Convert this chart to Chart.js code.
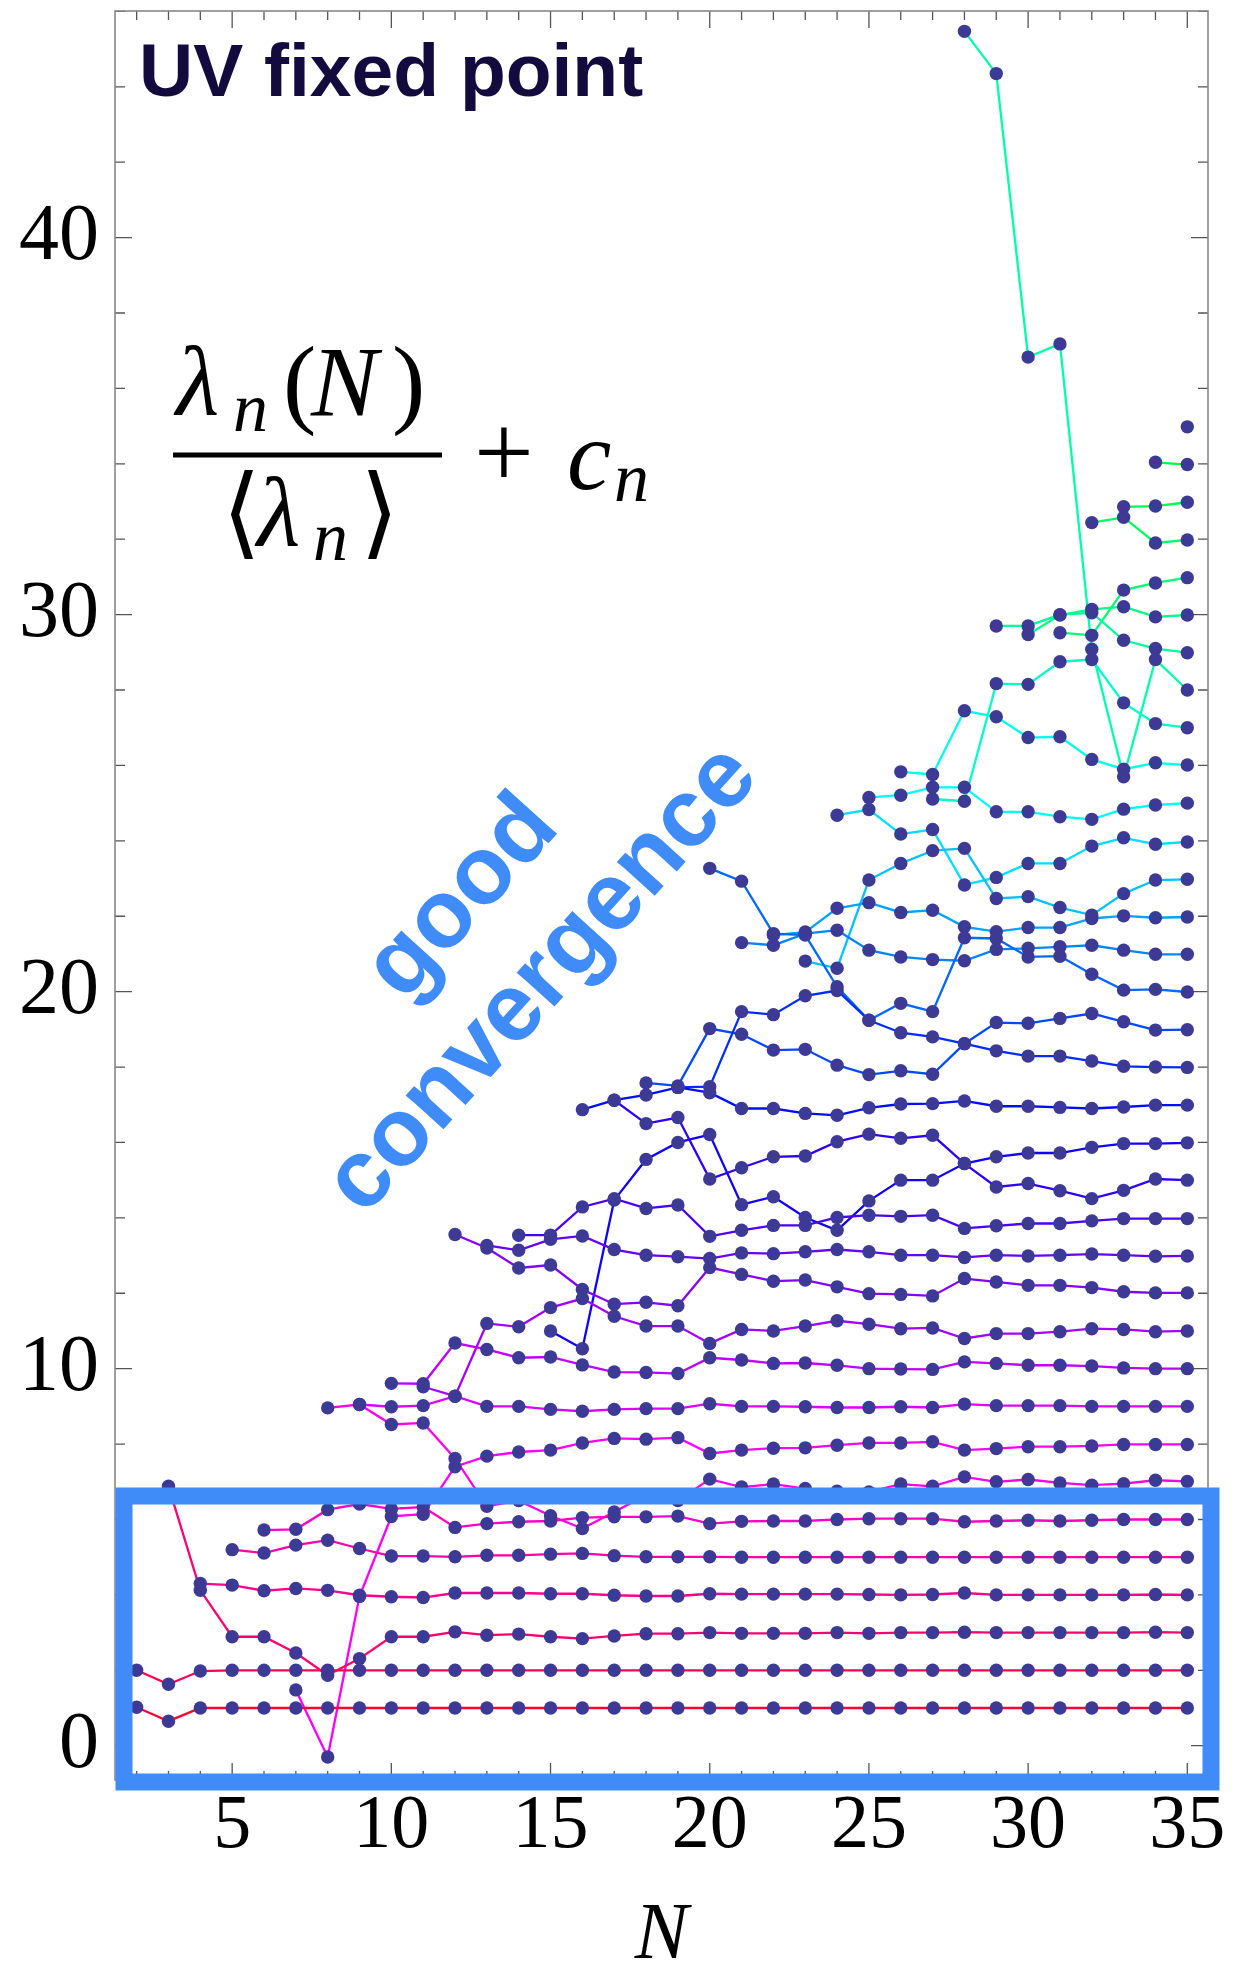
<!DOCTYPE html>
<html>
<head>
<meta charset="utf-8">
<title>UV fixed point</title>
<script src="https://cdn.jsdelivr.net/npm/chart.js@4.4.1/dist/chart.umd.min.js"></script>
<style>
  html, body { margin: 0; padding: 0; background: #fff; }
  #wrap { width: 1233px; height: 1970px; }
</style>
</head>
<body>
<div id="wrap"><canvas id="chart" width="1233" height="1970"></canvas></div>
<script>
// N values (x categories)
const N = [2, 3, 4, 5, 6, 7, 8, 9, 10, 11, 12, 13, 14, 15, 16, 17, 18, 19,
           20, 21, 22, 23, 24, 25, 26, 27, 28, 29, 30, 31, 32, 33, 34, 35];
const xTicks = [5, 10, 15, 20, 25, 30, 35];
const yTicks = [0, 10, 20, 30, 40];

// leading nulls until the series starts
const pad = (start, vals) => Array(start - N[0]).fill(null).concat(vals);

// lambda_n(N)/<lambda_n> + c_n, one array per n
const s1 = pad(2, [1.02, 0.65,
  1.0, 1.0, 1.0, 1.0, 1.0, 1.0, 1.0, 1.0,
  1.0, 1.0, 1.0, 1.0, 1.0, 1.0, 1.0, 1.0,
  1.0, 1.0, 1.0, 1.0, 1.0, 1.0, 1.0, 1.0,
  1.0, 1.0, 1.0, 1.0, 1.0, 1.0, 1.0, 1.0]);
const s2 = pad(2, [2.0, 1.63, 1.98,
  2.0, 2.0, 2.0, 2.0, 2.0, 2.0, 2.0,
  2.0, 2.0, 2.0, 2.0, 2.0, 2.0, 2.0, 2.0,
  2.0, 2.0, 2.0, 2.0, 2.0, 2.0, 2.0, 2.0,
  2.0, 2.0, 2.0, 2.0, 2.0, 2.0, 2.0, 2.0]);
const s3 = pad(3, [6.88, 4.12, 2.89, 2.89, 2.46, 1.87, 2.31, 2.89, 2.89,
  3.02, 2.93, 2.96, 2.89, 2.84, 2.91, 2.97, 2.97,
  3.0, 2.98, 2.98, 2.98, 3.0, 2.98, 3.0, 3.0,
  3.01, 3.0, 3.0, 3.0, 3.0, 3.0, 3.01, 3.0]);
const s4 = pad(4, [4.3, 4.26, 4.11, 4.17, 4.12, 3.99, 3.95, 3.93,
  4.05, 4.05, 4.05, 4.03, 4.03, 3.99, 3.97, 3.97,
  4.03, 4.02, 4.02, 4.02, 4.02, 4.01, 4.0, 4.01,
  4.05, 4.0, 4.0, 4.0, 4.0, 4.0, 4.01, 4.0]);
const s5 = pad(5, [5.2, 5.11, 5.32, 5.45, 5.23, 5.03, 5.03,
  5.01, 5.05, 5.05, 5.08, 5.1, 5.04, 5.01, 5.01,
  5.01, 5.0, 5.0, 5.0, 5.0, 5.0, 5.0, 5.0,
  5.0, 5.0, 5.0, 5.0, 5.0, 5.0, 5.0, 5.0]);
const s6 = pad(6, [5.72, 5.74, 6.26, 6.41, 6.28, 6.33,
  5.79, 5.89, 5.94, 5.96, 6.05, 6.07, 6.07, 6.09,
  5.89, 5.95, 5.96, 5.96, 6.0, 6.02, 6.02, 6.02,
  5.94, 5.96, 5.98, 5.96, 5.98, 6.0, 6.0, 6.0]);
const s7 = pad(8, [8.96, 9.05, 8.52, 8.56,
  7.62, 6.35, 6.5, 6.1, 5.76, 6.2, 6.65, 6.5,
  7.07, 6.86, 6.94, 6.82, 6.75, 6.73, 6.94, 6.88,
  7.13, 7.0, 7.06, 6.97, 6.91, 6.95, 7.04, 7.01]);
const s8 = pad(7, [1.48, -0.3, 3.96, 6.08, 6.14,
  7.4, 7.68, 7.79, 7.84, 8.03, 8.15, 8.13, 8.17,
  7.75, 7.84, 7.89, 7.9, 7.97, 8.03, 8.03, 8.06,
  7.84, 7.88, 7.93, 7.93, 7.95, 7.99, 7.99, 7.99]);
const s9 = pad(9, [9.05, 8.99, 9.02,
  9.27, 9.0, 9.0, 8.92, 8.87, 8.92, 8.94, 8.94,
  9.07, 9.0, 9.0, 8.99, 8.97, 8.97, 8.99, 8.97,
  9.06, 9.02, 9.02, 9.02, 9.0, 9.0, 9.0, 9.0]);
const s10 = pad(10, [9.61, 9.6,
  10.68, 10.51, 10.29, 10.31, 10.1, 9.91, 9.9, 9.87,
  10.29, 10.23, 10.14, 10.15, 10.09, 10.0, 9.99, 9.98,
  10.18, 10.14, 10.09, 10.09, 10.07, 10.02, 10.0, 10.0]);
const s11 = pad(11, [9.52,
  9.27, 11.2, 11.11, 11.62, 11.86, 11.39, 11.13, 11.13,
  10.67, 11.04, 11.0, 11.13, 11.27, 11.18, 11.06, 11.08,
  10.8, 10.93, 10.93, 10.98, 11.06, 11.04, 10.98, 11.0]);
const s12 = pad(12, [13.56, 13.2, 12.67, 12.75, 12.1, 11.71, 11.76, 11.67,
  12.68, 12.5, 12.32, 12.35, 12.17, 11.99, 11.97, 11.93,
  12.39, 12.3, 12.21, 12.21, 12.15, 12.04, 12.01, 12.01]);
const s13 = pad(13, [13.27, 13.14, 13.43, 13.52, 13.16, 13.01, 12.97,
  12.92, 13.07, 13.05, 13.1, 13.16, 13.1, 13.01, 13.01,
  12.95, 13.01, 12.99, 13.01, 13.04, 13.01, 12.98, 12.99]);
const s14 = pad(14, [13.54, 13.54, 14.29, 14.51, 14.25, 14.34,
  13.51, 13.67, 13.8, 13.8, 14.01, 14.07, 14.04, 14.07,
  13.72, 13.79, 13.85, 13.85, 13.92, 13.98, 13.98, 13.98]);
const s15 = pad(17, [17.12, 16.5, 16.66,
  15.03, 15.33, 15.62, 15.64, 16.02, 16.22, 16.11, 16.19,
  15.44, 14.82, 14.91, 14.72, 14.51, 14.73, 15.03, 15.0]);
const s16 = pad(15, [11.0, 10.53, 14.47, 15.55, 16.0,
  16.21, 14.35, 14.56, 14.01, 13.67, 14.45, 15.0, 15.0,
  15.44, 15.62, 15.72, 15.72, 15.87, 15.97, 15.97, 15.99]);
const s17 = pad(16, [16.87, 17.12, 17.26, 17.46,
  17.32, 16.9, 16.9, 16.77, 16.72, 16.92, 17.02, 17.03,
  17.1, 16.96, 16.96, 16.93, 16.9, 16.94, 16.99, 16.99]);
const s18 = pad(19, [17.46,
  17.48, 19.47, 19.39, 19.89, 20.03, 19.24, 18.91, 18.8,
  18.62, 18.43, 18.29, 18.29, 18.16, 18.02, 18.0, 17.99]);
const s19 = pad(18, [17.58, 17.5,
  19.02, 18.87, 18.45, 18.47, 18.05, 17.8, 17.9, 17.81,
  18.62, 19.18, 19.16, 19.29, 19.42, 19.2, 18.98, 18.99]);
const s20 = pad(20, [23.27, 22.93, 21.54, 21.5, 20.13, 19.24, 19.69, 19.47,
  21.43, 21.41, 20.92, 20.94, 20.46, 20.04, 20.06, 19.99]);
const s21 = pad(21, [21.3, 21.23, 21.54, 21.63, 21.1, 20.92, 20.85,
  20.82, 21.12, 21.15, 21.19, 21.23, 21.1, 20.99, 20.99]);
const s22 = pad(22, [21.5, 21.58, 22.21, 22.36, 22.1, 22.16,
  21.72, 21.59, 21.7, 21.7, 21.94, 22.01, 21.96, 21.98]);
const s23 = pad(23, [20.81, 20.62, 22.96, 23.4, 23.74,
  23.8, 22.47, 22.52, 22.23, 22.03, 22.6, 22.96, 22.98]);
const s24 = pad(24, [24.68, 24.83, 24.18, 24.3,
  22.83, 23.03, 23.4, 23.4, 23.86, 24.08, 23.91, 23.97]);
const s25 = pad(25, [25.15, 25.21, 25.42,
  25.42, 24.77, 24.77, 24.64, 24.57, 24.84, 24.95, 25.0]);
const s26 = pad(26, [25.83, 25.76, 27.45, 27.29, 26.74, 26.76, 26.16, 25.9, 26.07, 26.01]);
const s27 = pad(27, [25.11, 25.05, 28.17, 28.15, 28.75, 28.81, 27.66, 27.11, 27.0]);
const s28 = pad(28, [45.47, 44.35, 36.83, 37.18, 29.08, 25.7, 28.81, 28.0]);
const s29 = pad(29, [29.7, 29.7, 30.0, 30.05, 29.32, 29.1, 28.99]);
const s30 = pad(30, [29.47, 29.99, 30.14, 30.21, 29.94, 29.99]);
const s31 = pad(31, [29.52, 29.45, 30.65, 30.84, 30.98]);
const s32 = pad(32, [32.44, 32.58, 31.9, 31.98]);
const s33 = pad(33, [32.86, 32.88, 32.98]);
const s34 = pad(34, [34.04, 33.98]);
const s35 = pad(35, [34.98]);

const series = [s1, s2, s3, s4, s5, s6, s7, s8, s9, s10, s11, s12, s13, s14, s15, s16, s17, s18,
                s19, s20, s21, s22, s23, s24, s25, s26, s27, s28, s29, s30, s31, s32, s33, s34, s35];

// red -> magenta -> blue -> cyan -> green
const hue = i => (i <= 27 ? 348 - 6.96 * i : 160 - 4.3 * (i - 27));
const toPts = s => N.map((n, i) => ({ x: n, y: s[i] })).filter(p => p.y !== null);

const lineSets = series.map((s, i) => ({
  data: toPts(s),
  showLine: true,
  borderColor: `hsl(${hue(i)}, 100%, 50%)`,
  borderWidth: 2.3,
  pointRadius: 0,
  fill: false,
  order: 1
}));
const dotSets = series.map(s => ({
  data: toPts(s),
  showLine: false,
  pointRadius: 6.7,
  pointBackgroundColor: '#3d3a96',
  pointBorderWidth: 0,
  order: 0
}));

const serif = '"Liberation Serif", "DejaVu Serif", serif';
const sans = '"Liberation Sans", Arial, sans-serif';

// frame, ticks, the box and the labels drawn on the canvas
const decor = {
  id: 'decor',
  beforeDatasetsDraw(chart) {
    const { ctx, chartArea: a, scales: { x, y } } = chart;
    ctx.save();
    ctx.strokeStyle = '#555';
    ctx.lineWidth = 1.3;
    ctx.beginPath();
    for (let n = 2; n <= 35; n++) {
      const px = x.getPixelForValue(n);
      const len = n % 5 === 0 ? 17 : 9;
      ctx.moveTo(px, a.bottom); ctx.lineTo(px, a.bottom - len);
      ctx.moveTo(px, a.top); ctx.lineTo(px, a.top + len);
    }
    for (let v = 0; v <= 46; v += 2) {
      const py = y.getPixelForValue(v);
      const len = v % 10 === 0 ? 17 : 10;
      ctx.moveTo(a.left, py); ctx.lineTo(a.left + len, py);
      ctx.moveTo(a.right, py); ctx.lineTo(a.right - len, py);
    }
    ctx.stroke();
    ctx.strokeStyle = '#888';
    ctx.lineWidth = 1.6;
    ctx.strokeRect(a.left, a.top, a.right - a.left, a.bottom - a.top);
    ctx.restore();
  },
  afterDraw(chart) {
    const { ctx } = chart;
    ctx.save();

    // "good convergence" box
    ctx.strokeStyle = '#3f8cf8';
    ctx.lineWidth = 17;
    ctx.strokeRect(124, 1496, 1087, 286);

    // title
    ctx.fillStyle = '#130a3e';
    ctx.font = `bold 75px ${sans}`;
    ctx.textAlign = 'left';
    ctx.textBaseline = 'alphabetic';
    ctx.fillText('UV fixed point', 139, 96);

    // formula
    ctx.fillStyle = '#000';
    const it = s => `italic ${s}px ${serif}`;
    const rm = s => `${s}px ${serif}`;
    const put = (t, f, px, py) => { ctx.font = f; ctx.fillText(t, px, py); };
    put('λ', it(100), 176, 415);
    put('n', it(70), 233, 431);
    put('(', rm(100), 283, 415);
    put('N', it(100), 311, 415);
    put(')', rm(100), 392, 415);
    ctx.fillRect(173, 452.5, 269, 5);
    put('⟨', rm(100), 222, 546);
    put('λ', it(100), 257, 546);
    put('n', it(70), 313, 560);
    put('⟩', rm(100), 360, 546);
    put('+', rm(106), 474, 488);
    put('c', it(100), 567, 489);
    put('n', it(70), 614, 501);

    // rotated annotation
    const fs = 96;
    ctx.fillStyle = '#3f8cf8';
    ctx.font = `bold ${fs}px ${sans}`;
    ctx.textAlign = 'center';
    ctx.translate(544, 981);
    ctx.rotate(-47.9 * Math.PI / 180);
    ctx.fillText('convergence', 0, 0.26 * fs);
    ctx.fillText('good', 7, -114 + 0.26 * fs);
    ctx.restore();
  }
};

new Chart(document.getElementById('chart'), {
  type: 'scatter',
  data: { datasets: [...lineSets, ...dotSets] },
  options: {
    responsive: false,
    animation: false,
    events: [],
    layout: { padding: { top: 11, right: 25, left: 0, bottom: 0 } },
    plugins: { legend: { display: false }, tooltip: { enabled: false } },
    scales: {
      x: {
        type: 'linear',
        min: 1.32,
        max: 35.65,
        afterBuildTicks: s => { s.ticks = xTicks.map(v => ({ value: v })); },
        afterFit: s => { s.height = 190; s.paddingLeft = 0; s.paddingRight = 0; },
        ticks: { color: '#000', padding: 9, font: { family: serif, size: 76, lineHeight: 1 }, maxRotation: 0 },
        grid: { display: false, drawTicks: false },
        border: { display: false },
        title: {
          display: true,
          text: 'N',
          color: '#000',
          font: { family: serif, size: 80, style: 'italic', lineHeight: 0.6 },
          padding: { top: 0, bottom: 9 }
        }
      },
      y: {
        type: 'linear',
        min: -0.91,
        max: 46.01,
        afterBuildTicks: s => { s.ticks = yTicks.map(v => ({ value: v })); },
        afterFit: s => { s.width = 115; s.paddingTop = 0; s.paddingBottom = 0; },
        ticks: { color: '#000', padding: 16, font: { family: serif, size: 80 } },
        grid: { display: false, drawTicks: false },
        border: { display: false }
      }
    }
  },
  plugins: [decor]
});
</script>
</body>
</html>
